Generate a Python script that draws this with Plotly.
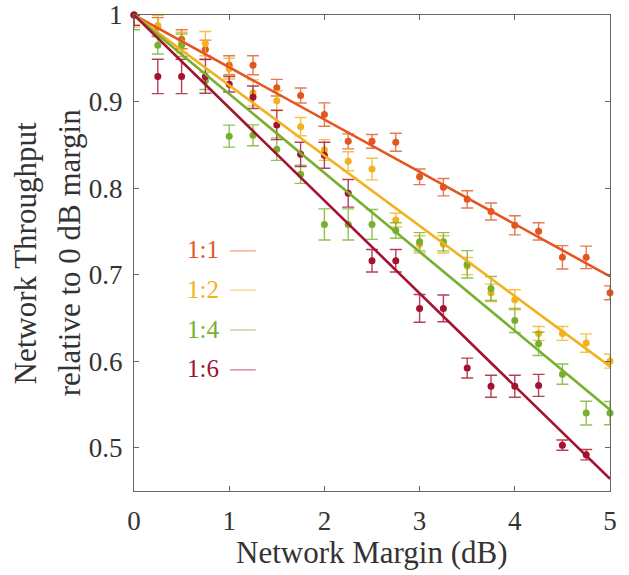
import plotly.graph_objects as go

margin_db = [0, 0.25, 0.5, 0.75, 1.0, 1.25, 1.5, 1.75, 2.0, 2.25, 2.5,
             2.75, 3.0, 3.25, 3.5, 3.75, 4.0, 4.25, 4.5, 4.75, 5.0]

series_names = ["1:1", "1:2", "1:4", "1:6"]
series_colors = ["#E4561F", "#F2B11E", "#76B02E", "#A3122E"]

tput_1_1 = [1.0, 0.986, 0.972, 0.960, 0.942, 0.942, 0.916, 0.907, 0.885, 0.854, 0.854,
            0.853, 0.813, 0.801, 0.787, 0.773, 0.757, 0.750, 0.720, 0.720, 0.679]
tput_1_2 = [1.0, 0.988, 0.968, 0.967, 0.938, 0.910, 0.901, 0.871, 0.844, 0.831, 0.822,
            0.763, 0.735, 0.735, 0.710, 0.679, 0.671, 0.632, 0.632, 0.621, 0.600]
tput_1_4 = [1.0, 0.965, 0.965, 0.924, 0.860, 0.861, 0.845, 0.816, 0.758, 0.758, 0.758,
            0.751, 0.738, 0.738, 0.712, 0.684, 0.647, 0.620, 0.585, 0.540, 0.540]
tput_1_6 = [1.0, 0.929, 0.929, 0.929, 0.920, 0.905, 0.873, 0.839, 0.838, 0.794, 0.716,
            0.716, 0.661, 0.661, 0.592, 0.571, 0.571, 0.572, 0.503, 0.492, None]

err_1_1 = [0.012, 0.011, 0.011, 0.011, 0.011, 0.011, 0.0096, 0.0087, 0.0135, 0.0087, 0.008,
           0.0104, 0.009, 0.010, 0.010, 0.0098, 0.011, 0.010, 0.0135, 0.013, 0.008]
err_1_2 = [0.014, 0.0115, 0.012, 0.014, 0.012, 0.015, 0.0115, 0.0106, 0.012, 0.011, 0.0125,
           0.008, 0.010, 0.010, 0.010, 0.010, 0.0115, 0.008, 0.008, 0.0106, 0.008]
err_1_4 = [0.017, 0.010, 0.013, 0.010, 0.0127, 0.012, 0.013, 0.0105, 0.018, 0.018, 0.0173,
           0.009, 0.0105, 0.0105, 0.0158, 0.0138, 0.0138, 0.0135, 0.0117, 0.0137, 0.0135]
err_1_6 = [0.012, 0.0198, 0.0198, 0.0195, 0.009, 0.013, 0.017, 0.014, 0.015, 0.016, 0.013,
           0.013, 0.016, 0.0155, 0.0115, 0.0127, 0.0127, 0.0127, 0.006, 0.006, None]

# linear fits: value at 0 dB and at 5 dB
fit_x = [0, 5]
fit_1_1 = [1.0, 0.698]
fit_1_2 = [1.0, 0.594]
fit_1_4 = [1.0, 0.544]
fit_1_6 = [1.0, 0.464]

x_ticks = [0, 1, 2, 3, 4, 5]
y_ticks = [0.5, 0.6, 0.7, 0.8, 0.9, 1.0]
y_ticktext = ["0.5", "0.6", "0.7", "0.8", "0.9", "1"]

values = [tput_1_1, tput_1_2, tput_1_4, tput_1_6]
errors = [err_1_1, err_1_2, err_1_4, err_1_6]
fits = [fit_1_1, fit_1_2, fit_1_4, fit_1_6]

FONT = "Liberation Serif"
TXT = "#333333"


def rgba(hexc, a):
    h = hexc.lstrip("#")
    r, g, b = int(h[0:2], 16), int(h[2:4], 16), int(h[4:6], 16)
    return f"rgba({r},{g},{b},{a})"


fig = go.Figure()
for name, col, vals, errs in zip(series_names, series_colors, values, errors):
    up = [0 if x == 0 else e for x, e in zip(margin_db, errs)]
    fig.add_trace(go.Scatter(
        x=margin_db, y=vals, mode="markers", name=name, showlegend=False,
        marker=dict(color=col, size=7),
        error_y=dict(type="data", symmetric=False, array=up, arrayminus=errs,
                     color=rgba(col, 0.8), thickness=1.4, width=6),
        cliponaxis=False,
    ))
for name, col, fit in zip(series_names, series_colors, fits):
    fig.add_trace(go.Scatter(
        x=fit_x, y=fit, mode="lines", showlegend=False,
        line=dict(color=col, width=2.6),
    ))

# legend drawn as text followed by a short line
legend_y = [0.7285, 0.683, 0.637, 0.591]
for name, col, ly in zip(series_names, series_colors, legend_y):
    fig.add_annotation(x=0.725, y=ly, xref="x", yref="y", text=name, showarrow=False,
                       font=dict(family=FONT, size=25, color=col),
                       xanchor="center", yanchor="middle")
    fig.add_shape(type="line", x0=1.008, x1=1.28, y0=ly - 0.001, y1=ly - 0.001,
                  xref="x", yref="y", line=dict(color=rgba(col, 0.5), width=1.4))

axis_common = dict(
    showline=True, linecolor="#666666", linewidth=1.3, mirror="ticks",
    ticks="inside", ticklen=5, tickcolor="#666666", tickwidth=1.2,
    showgrid=False, zeroline=False, automargin=False, ticklabeloverflow="allow",
    tickfont=dict(family=FONT, size=27, color=TXT),
)

fig.update_layout(
    width=629, height=575,
    margin=dict(l=134, r=19, t=15, b=84),
    plot_bgcolor="white", paper_bgcolor="white",
    xaxis=dict(range=[0, 5], tickvals=x_ticks, ticklabelstandoff=5, **axis_common),
    yaxis=dict(range=[0.45, 1.0], tickvals=y_ticks, ticktext=y_ticktext,
               ticklabelstandoff=5, **axis_common),
)

fig.add_annotation(x=0.5, y=-0.13, xref="paper", yref="paper", text="Network Margin (dB)",
                   showarrow=False, font=dict(family=FONT, size=31, color=TXT),
                   xanchor="center", yanchor="middle")
fig.add_annotation(x=-0.228, y=0.5, xref="paper", yref="paper", text="Network Throughput",
                   showarrow=False, textangle=-90, font=dict(family=FONT, size=31, color=TXT),
                   xanchor="center", yanchor="middle")
fig.add_annotation(x=-0.136, y=0.5, xref="paper", yref="paper", text="relative to 0 dB margin",
                   showarrow=False, textangle=-90, font=dict(family=FONT, size=31, color=TXT),
                   xanchor="center", yanchor="middle")

fig.write_html("out.html", config={"displayModeBar": False},
               post_script="document.body.style.margin='0px';")
